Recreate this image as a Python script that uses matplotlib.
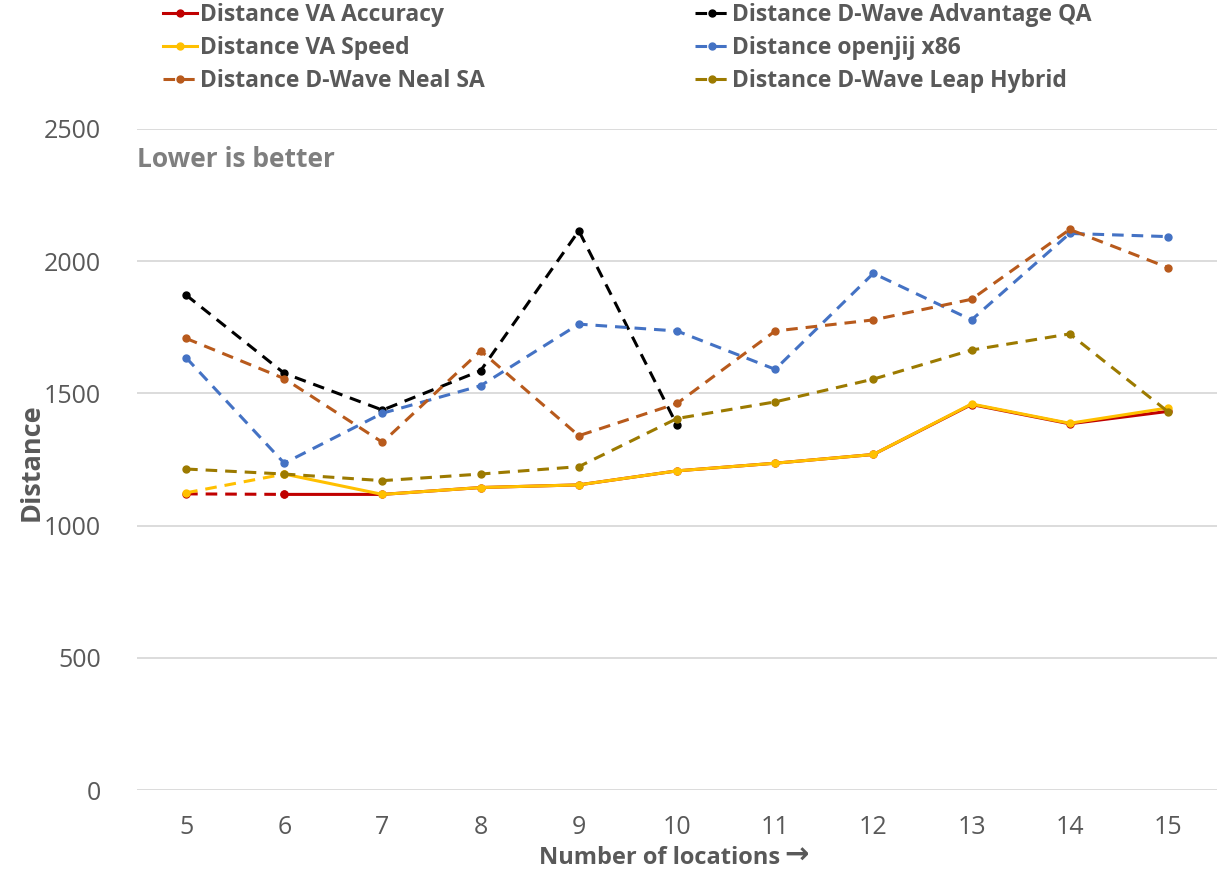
import matplotlib
matplotlib.use("Agg")
import matplotlib.pyplot as plt
from matplotlib.lines import Line2D
import numpy as np

# --- data ---
locations = [5, 6, 7, 8, 9, 10, 11, 12, 13, 14, 15]
va_accuracy = [1120, 1118, 1118, 1144, 1154, 1207, 1236, 1269, 1458, 1385, 1432]
va_speed = [1124, 1195, 1118, 1144, 1154, 1207, 1236, 1269, 1460, 1387, 1445]
advantage_qa = [1872, 1576, 1437, 1586, 2115, 1380, None, None, None, None, None]
openjij_x86 = [1635, 1236, 1425, 1529, 1762, 1736, 1591, 1954, 1778, 2105, 2093]
neal_sa = [1708, 1556, 1315, 1661, 1340, 1462, 1736, 1778, 1856, 2120, 1976]
leap_hybrid = [1214, 1195, 1170, 1195, 1223, 1405, 1468, 1554, 1664, 1725, 1431]

y_ticks = [0, 500, 1000, 1500, 2000, 2500]

RED = "#C00000"
YELLOW = "#FFC000"
BLACK = "#000000"
BLUE = "#4472C4"
BROWN = "#B85A1C"
OLIVE = "#9C7A00"
TEXT = "#595959"

FONT = ["Open Sans", "DejaVu Sans"]
LW = 2.2
MS = 5
DASH = (0, (3.8, 2.6))

fig = plt.figure(figsize=(12.17, 8.72), dpi=100)
ax = fig.add_axes([137 / 1217, 82 / 872, 1080 / 1217, 661 / 872])

x = np.array(locations, dtype=float)


def to_arr(vals):
    return np.array([np.nan if v is None else v for v in vals], dtype=float)


# VA series: first segment dashed, rest solid
def va_line(vals, color):
    y = to_arr(vals)
    ax.plot(x[:2], y[:2], color=color, lw=LW, ls=DASH, marker="o", ms=MS)
    ax.plot(x[1:], y[1:], color=color, lw=LW, ls="-", marker="o", ms=MS)


def dashed_line(vals, color):
    y = to_arr(vals)
    ax.plot(x, y, color=color, lw=LW, ls=DASH, marker="o", ms=MS)


# drawing order as in the original workbook
va_line(va_accuracy, RED)
dashed_line(advantage_qa, BLACK)
va_line(va_speed, YELLOW)
dashed_line(openjij_x86, BLUE)
dashed_line(neal_sa, BROWN)
dashed_line(leap_hybrid, OLIVE)

ax.set_xlim(4.5, 15.5)
ax.set_ylim(0, 2500)
ax.set_xticks(locations)
ax.set_yticks(y_ticks)
ax.grid(axis="y", color="#D9D9D9", lw=1.3)
ax.set_axisbelow(True)
for s in ax.spines.values():
    s.set_visible(False)
ax.tick_params(length=0, labelsize=18, labelcolor=TEXT, pad=18)
ax.tick_params(axis="y", pad=26)
for lab in ax.get_xticklabels() + ax.get_yticklabels():
    lab.set_family(FONT)

fig.text(32 / 1217, 1 - 462 / 872, "Distance", rotation=90, ha="center", va="center",
         fontsize=19.5, fontweight="bold", color=TEXT, family=FONT)
# x title: text plus a heavier arrow
fig.text(780 / 1217, 1 - 858 / 872, "Number of locations", ha="right", va="center",
         fontsize=17, fontweight="bold", color=TEXT, family=FONT)
fig.text(784 / 1217, 1 - 856 / 872, "\u2192", ha="left", va="center",
         fontsize=21, fontweight="bold", color=TEXT, family="DejaVu Sans")
fig.text(137 / 1217, 1 - 167 / 872, "Lower is better", ha="left", va="baseline",
         fontsize=19, fontweight="bold", color="#7F7F7F", family=FONT)


def handle(color, dashed):
    return Line2D([], [], color=color, lw=LW, ls=DASH if dashed else "-",
                  marker="o", ms=MS)


leg_kw = dict(loc="upper left", frameon=False, borderpad=0, borderaxespad=0,
              handlelength=1.5, handletextpad=0.12, labelspacing=0.4,
              prop={"family": FONT, "size": 16.5, "weight": "bold"},
              labelcolor=TEXT)

leg1 = fig.legend([handle(RED, False), handle(YELLOW, False), handle(BROWN, True)],
                  ["Distance VA Accuracy", "Distance VA Speed", "Distance D-Wave Neal SA"],
                  bbox_to_anchor=(163 / 1217, 1 - 3 / 872), **leg_kw)
leg2 = fig.legend([handle(BLACK, True), handle(BLUE, True), handle(OLIVE, True)],
                  ["Distance D-Wave Advantage QA", "Distance openjij x86",
                   "Distance D-Wave Leap Hybrid"],
                  bbox_to_anchor=(695 / 1217, 1 - 3 / 872), **leg_kw)

fig.savefig("out.png", dpi=100)
